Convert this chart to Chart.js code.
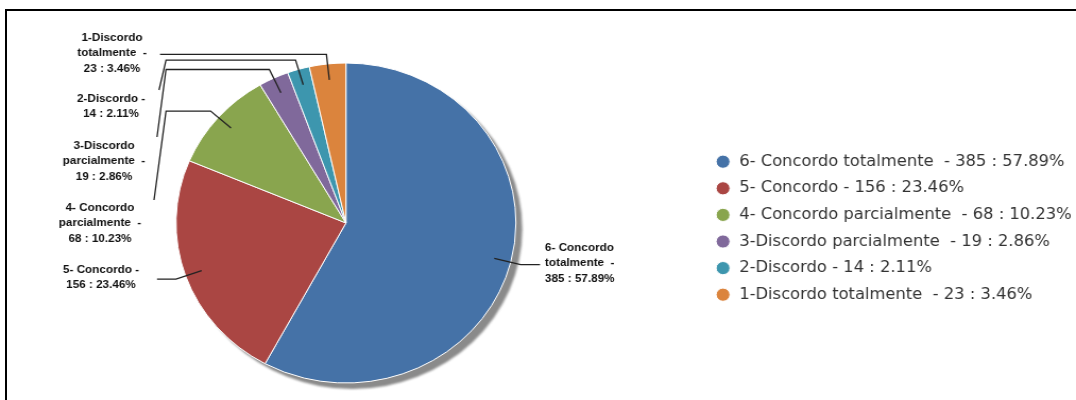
<!DOCTYPE html>
<html>
<head>
<meta charset="utf-8">
<script src="https://cdn.jsdelivr.net/npm/chart.js@4.4.1/dist/chart.umd.min.js"></script>
<style>
  html, body { margin: 0; padding: 0; background: #fff; overflow: hidden; }
  #frame { position: absolute; left: 5px; top: 9px; width: 1200px; height: 600px; border: 2px solid #000; }
  #wrap { position: absolute; left: 0; top: 0; width: 1076px; height: 400px; }
</style>
</head>
<body>
<div id="frame"></div>
<div id="wrap">
  <!-- drawn at 1013 wide, shown at 1076 (the source picture is stretched sideways) -->
  <canvas id="pieChart" width="1013" height="400" style="width:1076px;height:400px;"></canvas>
</div>
<script>
const categories = ['6- Concordo totalmente ', '5- Concordo', '4- Concordo parcialmente ', '3-Discordo parcialmente ', '2-Discordo', '1-Discordo totalmente '];
const counts = [385, 156, 68, 19, 14, 23];
const colors = ['#4572A7', '#AA4643', '#89A54E', '#80699B', '#3D96AE', '#DB843D'];

const total = counts.reduce((a, b) => a + b, 0);
const percents = counts.map(v => (v / total * 100).toFixed(2));
const nameParts = categories.map(c => c + ' -');
const valueParts = counts.map((v, i) => `${v} : ${percents[i]}%`);
const legendTexts = nameParts.map((n, i) => `${n} ${valueParts[i]}`);

const SX = 1076 / 1013; // horizontal stretch of the picture

// where the outside labels sit (picture px); connectors run from the slice to these
const labelLayout = [
    { x: 545, y: 248, align: 'left', colX: 540 },
    { x: 101, y: 270, align: 'center', colX: 157 },
    { x: 100, y: 208, align: 'center', colX: 166, endX: 154, endY: 200 },
    { x: 104, y: 146, align: 'center', colX: 166, endX: 157, endY: 137 },
    { x: 111, y: 99, align: 'center', colX: 166, endX: 159, endY: 90 },
    { x: 112, y: 38, align: 'center', colX: 160 }
];

const wrapWords = (ctx, text, maxW) => {
    const words = text.split(' ');
    const lines = [];
    let line = words[0];
    for (let i = 1; i < words.length; i++) {
        const test = line + ' ' + words[i];
        if (ctx.measureText(test).width > maxW && words[i] !== '') {
            lines.push(line.trimEnd());
            line = words[i];
        } else {
            line = test;
        }
    }
    lines.push(line);
    return lines;
};

// grey drop shadow under the pie
const pieShadow = {
    id: 'pieShadow',
    beforeDatasetsDraw(chart) {
        const arc = chart.getDatasetMeta(0).data[0];
        if (!arc) return;
        const { x, y, outerRadius } = arc.getProps(['x', 'y', 'outerRadius'], true);
        const ctx = chart.ctx;
        ctx.save();
        ctx.filter = 'blur(1px)';
        ctx.fillStyle = '#8a8a8a';
        ctx.beginPath();
        ctx.arc(x + 6, y + 6, outerRadius, 0, Math.PI * 2);
        ctx.fill();
        ctx.restore();
    }
};

// outside labels with connector lines
const outsideLabels = {
    id: 'outsideLabels',
    afterDatasetsDraw(chart) {
        const ctx = chart.ctx;
        const meta = chart.getDatasetMeta(0);
        ctx.save();
        ctx.font = 'bold 11px "Liberation Sans", Arial, sans-serif';
        ctx.textBaseline = 'middle';
        meta.data.forEach((arc, i) => {
            const { x, y, startAngle, endAngle, outerRadius } = arc.getProps(['x', 'y', 'startAngle', 'endAngle', 'outerRadius'], true);
            const mid = (startAngle + endAngle) / 2;
            const cos = Math.cos(mid), sin = Math.sin(mid);
            const lay = labelLayout[i];
            const landX = x + cos * outerRadius * 0.9, landY = y + sin * outerRadius * 0.9;
            const elbowX = x + cos * outerRadius * 1.06, elbowY = y + sin * outerRadius * 1.06;

            ctx.strokeStyle = '#222';
            ctx.lineWidth = 1.3;
            ctx.beginPath();
            ctx.moveTo(landX, landY);
            ctx.lineTo(elbowX, elbowY);
            ctx.lineTo(lay.colX / SX, elbowY);
            if (lay.endX !== undefined) ctx.lineTo(lay.endX / SX, lay.endY);
            ctx.stroke();

            const lines = wrapWords(ctx, nameParts[i], 80).concat([valueParts[i]]);
            ctx.fillStyle = '#111';
            ctx.textAlign = lay.align;
            lines.forEach((ln, k) => {
                ctx.fillText(ln, lay.x / SX, lay.y + k * 15.3);
            });
        });
        ctx.restore();
    }
};

// put the legend where it sits in the picture
const LEGEND_LEFT = 662;
const LEGEND_FIRST_TOP = 154;
const legendPlace = {
    id: 'legendPlace',
    afterLayout(chart) {
        const lg = chart.legend;
        if (!lg || !lg.columnSizes) return;
        const pad = lg.options.labels.padding;
        const w = lg.width, h = lg.height;
        const colH = lg.columnSizes[0].height;
        lg.left = LEGEND_LEFT;
        lg.right = LEGEND_LEFT + w + 40;
        lg.top = (2 * LEGEND_FIRST_TOP - pad - h + colH) / 2;
        lg.bottom = lg.top + h;
    }
};

new Chart(document.getElementById('pieChart'), {
    type: 'pie',
    data: {
        labels: legendTexts,
        datasets: [{
            data: counts,
            backgroundColor: colors,
            borderColor: '#ffffff',
            borderWidth: 1,
            radius: 160
        }]
    },
    options: {
        responsive: false,
        animation: false,
        events: [],
        layout: {
            padding: { left: 0, right: 361.6, top: 46, bottom: 0 }
        },
        plugins: {
            tooltip: { enabled: false },
            legend: {
                position: 'chartArea',
                labels: {
                    usePointStyle: true,
                    pointStyle: 'circle',
                    boxWidth: 15,
                    boxHeight: 9.3,
                    padding: 11.2,
                    color: '#333',
                    font: { family: '"DejaVu Sans", sans-serif', size: 15.4 }
                }
            }
        }
    },
    plugins: [pieShadow, outsideLabels, legendPlace]
});
</script>
</body>
</html>
